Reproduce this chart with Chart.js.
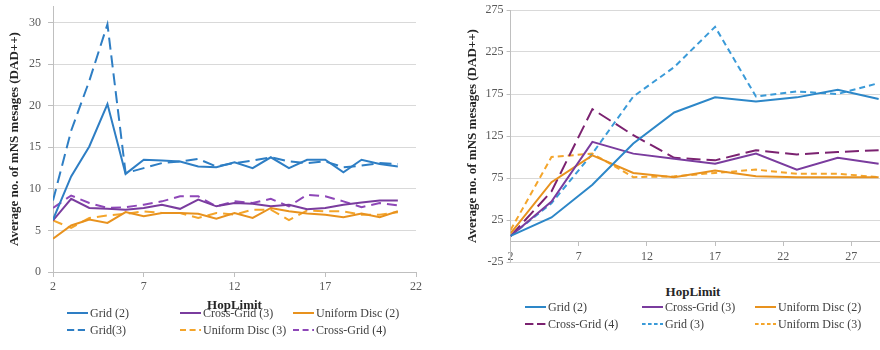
<!DOCTYPE html>
<html>
<head>
<meta charset="utf-8">
<script src="https://cdn.jsdelivr.net/npm/chart.js@4"></script>
<style>
  body { margin: 0; background: #fff; width: 880px; height: 350px; overflow: hidden; position: relative; font-family: "Liberation Serif", serif; }
  .box { position: absolute; top: 0; }
  #leftBox { left: 0; width: 440px; height: 313px; }
  #rightBox { left: 440px; width: 440px; height: 270px; }
  .item { position: absolute; display: flex; align-items: center; white-space: nowrap; font-size: 12px; color: #404040; line-height: 14px; }
  .item canvas { margin-right: 2px; }
  .xtitle { position: absolute; font-weight: bold; font-size: 13px; color: #262626; transform: translateX(-50%); }
</style>
</head>
<body>
<div class="box" id="leftBox"><canvas id="left"></canvas></div>
<div class="box" id="rightBox"><canvas id="right"></canvas></div>
<div class="xtitle" style="left:693px; top:284px;">HopLimit</div>
<div id="legends"></div>
<script>
// left chart: HopLimit 2..21
const hopLimitLeft = [2, 3, 4, 5, 6, 7, 8, 9, 10, 11, 12, 13, 14, 15, 16, 17, 18, 19, 20, 21];
const gridLeft2 = [6.3, 11.5, 15.1, 20.2, 11.8, 13.5, 13.4, 13.3, 12.7, 12.6, 13.2, 12.5, 13.8, 12.5, 13.5, 13.5, 12.0, 13.5, 13.0, 12.7];
const gridLeft3 = [8.6, 17.0, 23.0, 29.8, 11.9, 12.5, 13.1, 13.3, 13.6, 12.7, 13.1, 13.4, 13.8, 13.3, 13.1, 13.3, 12.6, 12.8, 13.1, 13.0];
const crossLeft3 = [6.2, 8.8, 7.7, 7.6, 7.5, 7.7, 8.1, 7.6, 8.7, 7.9, 8.3, 8.2, 7.9, 8.1, 7.55, 7.7, 8.1, 8.35, 8.6, 8.6];
const crossLeft4 = [7.7, 9.2, 8.3, 7.7, 7.8, 8.1, 8.5, 9.1, 9.1, 7.9, 8.5, 8.3, 8.8, 7.9, 9.3, 9.1, 8.5, 7.8, 8.3, 8.0];
const uniLeft2 = [4.0, 5.6, 6.3, 5.9, 7.2, 6.7, 7.1, 7.1, 7.0, 6.4, 7.1, 6.5, 7.7, 7.3, 7.05, 6.9, 6.6, 7.05, 6.6, 7.3];
const uniLeft3 = [6.2, 5.3, 6.5, 6.8, 7.0, 7.3, 7.1, 7.1, 6.5, 7.1, 6.9, 7.5, 7.5, 6.25, 7.4, 7.3, 7.3, 6.9, 6.9, 7.2];
const leftXTicks = [2, 7, 12, 17, 22];
const leftYTicks = [0, 5, 10, 15, 20, 25, 30];

// right chart: HopLimit 2..29 step 3
const hopLimitRight = [2, 5, 8, 11, 14, 17, 20, 23, 26, 29];
const gridRight2 = [6, 28, 67, 116, 153, 171, 166, 171, 180, 169];
const gridRight3 = [6, 45, 104, 172, 207, 255, 172, 178, 175, 188];
const crossRight3 = [6, 47, 118, 104, 98, 92, 104, 85, 99, 92];
const crossRight4 = [6, 59, 157, 126, 99, 96, 108, 103, 106, 108];
const uniRight2 = [9, 70, 102, 81, 76, 84, 77, 76, 76, 76];
const uniRight3 = [13, 100, 104, 76, 77, 81, 85, 80, 80, 76];
const rightXTicks = [2, 7, 12, 17, 22, 27];
const rightYTicks = [-25, 25, 75, 125, 175, 225, 275];

const yTitle = "Average no. of mNS mesages (DAD++)";
const serif = '"Liberation Serif", "Times New Roman", serif';
const tickColor = "#595959";
const gridColor = "#d9d9d9";
const axisColor = "#bfbfbf";

Chart.defaults.font.family = serif;
Chart.defaults.animation = false;

function series(label, xs, ys, color, dash) {
  return {
    label,
    data: xs.map((x, i) => ({ x, y: ys[i] })),
    borderColor: color,
    backgroundColor: color,
    borderDash: dash,
    borderWidth: 2,
    pointRadius: 0,
    tension: 0,
    fill: false,
  };
}

const leftSets = [
  series("Grid (2)", hopLimitLeft, gridLeft2, "#2e7ec4", []),
  series("Cross-Grid (3)", hopLimitLeft, crossLeft3, "#7a3c9e", []),
  series("Uniform Disc (2)", hopLimitLeft, uniLeft2, "#e8921e", []),
  series("Grid(3)", hopLimitLeft, gridLeft3, "#2e7ec4", [12, 6]),
  series("Uniform Disc (3)", hopLimitLeft, uniLeft3, "#f4a52b", [10, 6]),
  series("Cross-Grid (4)", hopLimitLeft, crossLeft4, "#8e47b8", [10, 6]),
];

const rightSets = [
  series("Grid (2)", hopLimitRight, gridRight2, "#2d87c8", []),
  series("Cross-Grid (3)", hopLimitRight, crossRight3, "#7a3c9e", []),
  series("Uniform Disc (2)", hopLimitRight, uniRight2, "#e8921e", []),
  series("Cross-Grid (4)", hopLimitRight, crossRight4, "#7b2270", [14, 6]),
  series("Grid (3)", hopLimitRight, gridRight3, "#3a9ad8", [6, 4]),
  series("Uniform Disc (3)", hopLimitRight, uniRight3, "#f4a52b", [6, 4]),
];

function fixTicks(values) {
  return (scale) => {
    scale.ticks = values.map((v) => ({ value: v }));
  };
}

// y axis: no extra top/bottom padding, the layout padding places the plot
function yAxis(min, max, ticks, padding, tickLength, titlePad) {
  return {
    type: "linear",
    min,
    max,
    afterBuildTicks: fixTicks(ticks),
    afterFit: (scale) => {
      scale.paddingTop = 0;
      scale.paddingBottom = 0;
    },
    grid: { color: gridColor, tickLength, tickColor: axisColor },
    border: { color: axisColor },
    ticks: { color: tickColor, font: { size: 12 }, padding },
    title: {
      display: true,
      text: yTitle,
      color: "#262626",
      font: { size: 13, weight: "bold" },
      padding: titlePad,
    },
  };
}

new Chart(document.getElementById("left"), {
  type: "line",
  data: { datasets: leftSets },
  options: {
    responsive: true,
    maintainAspectRatio: false,
    layout: { padding: { left: 4, top: 6, right: 24, bottom: 0 } },
    plugins: { legend: { display: false }, tooltip: { enabled: false } },
    scales: {
      x: {
        type: "linear",
        min: 2,
        max: 22,
        afterBuildTicks: fixTicks(leftXTicks),
        grid: { drawOnChartArea: false, tickLength: 5, color: axisColor },
        border: { color: axisColor },
        ticks: { color: tickColor, font: { size: 12 }, padding: 3 },
        title: {
          display: true,
          text: "HopLimit",
          color: "#262626",
          font: { size: 13, weight: "bold" },
          padding: { top: 0, bottom: 0 },
        },
      },
      y: yAxis(0, 32, leftYTicks, 7, 5, { top: 2.4, bottom: 0 }),
    },
  },
});

new Chart(document.getElementById("right"), {
  type: "line",
  data: { datasets: rightSets },
  options: {
    responsive: true,
    maintainAspectRatio: false,
    layout: { padding: { left: 21, top: 10, right: 0, bottom: 8 } },
    plugins: { legend: { display: false }, tooltip: { enabled: false } },
    scales: {
      x: {
        type: "linear",
        position: { y: 0 },
        min: 2,
        max: 29.1,
        afterBuildTicks: fixTicks(rightXTicks),
        grid: { drawOnChartArea: false, tickLength: 4, color: axisColor },
        border: { color: axisColor },
        ticks: { color: tickColor, font: { size: 12 }, padding: 5 },
      },
      y: yAxis(-25, 275, rightYTicks, 3, 4, { top: 4, bottom: 2 }),
    },
  },
});

// legends, laid out in three columns like the original
function addLegend(sets, cols, rows) {
  const holder = document.getElementById("legends");
  sets.forEach((ds, i) => {
    const item = document.createElement("div");
    item.className = "item";
    item.style.left = cols[i % 3] + "px";
    item.style.top = rows[Math.floor(i / 3)] - 7 + "px";
    const c = document.createElement("canvas");
    c.width = 21;
    c.height = 4;
    const ctx = c.getContext("2d");
    ctx.strokeStyle = ds.borderColor;
    ctx.lineWidth = 2;
    ctx.setLineDash(ds.borderDash.map((d) => d * 0.6));
    ctx.beginPath();
    ctx.moveTo(0, 2);
    ctx.lineTo(21, 2);
    ctx.stroke();
    item.appendChild(c);
    item.appendChild(document.createTextNode(ds.label));
    holder.appendChild(item);
  });
}

addLegend(leftSets, [67, 180, 293], [313, 330]);
addLegend(rightSets, [525, 642, 755], [307, 324]);
</script>
</body>
</html>
